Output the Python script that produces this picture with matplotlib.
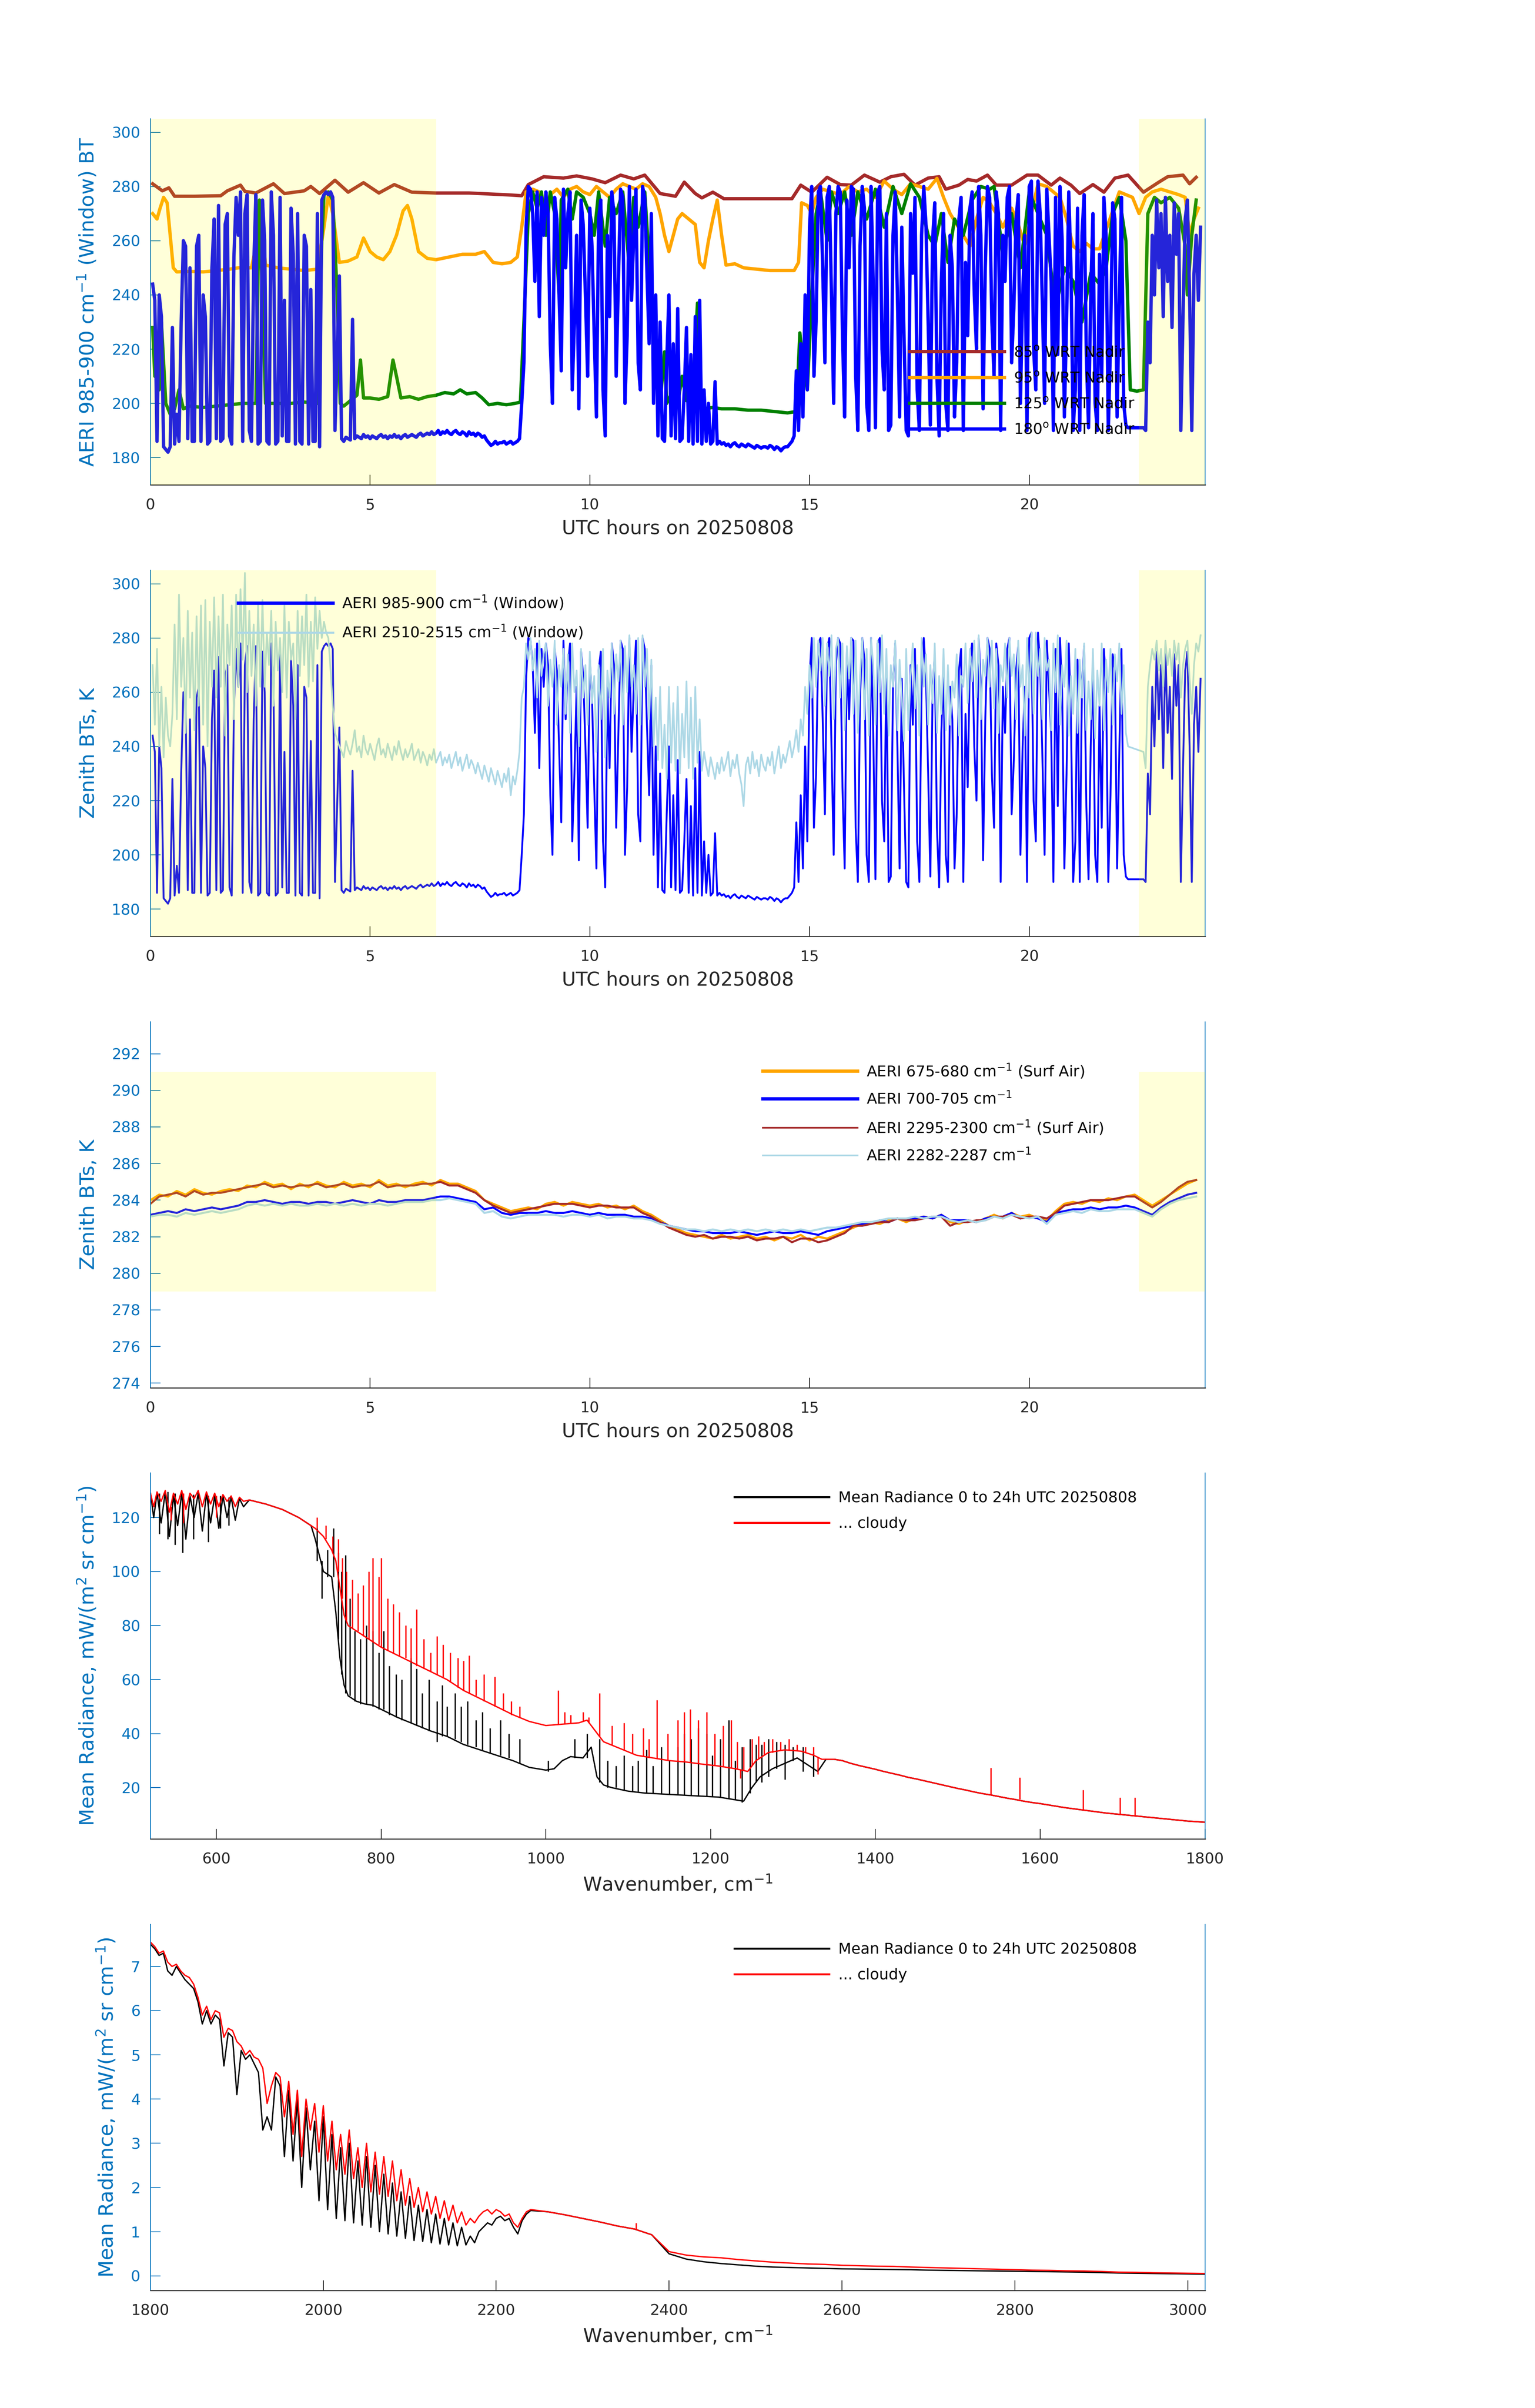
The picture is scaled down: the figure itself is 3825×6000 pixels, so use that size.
import numpy as np
import matplotlib
matplotlib.use('Agg')
import matplotlib.pyplot as plt

plt.rcParams['font.family'] = 'DejaVu Sans'
AXIS_BLUE = '#0072BD'
DARK = '#262626'

# ---------------- common ----------------
hour_ticks = [0, 5, 10, 15, 20]
night_spans = [(0, 6.5), (22.5, 24)]

# ---------------- panel 1: window BT at four scene angles ----------------
bt_ticks = [180, 200, 220, 240, 260, 280, 300]

t_85 = [0.05, 0.27, 0.42, 0.55, 1.0, 1.6, 1.75, 2.05, 2.15, 2.4, 2.8, 3.05, 3.5, 3.65, 3.85,
        4.2, 4.5, 4.85, 5.2, 5.55, 5.95, 6.5, 7.25, 8.15, 8.45, 8.6, 8.95, 9.4, 9.7, 10.05,
        10.35, 10.7, 11.0, 11.25, 11.6, 11.95, 12.15, 12.4, 12.55, 12.8, 13.05, 13.95, 14.6,
        14.8, 15.05, 15.4, 15.7, 15.95, 16.25, 16.6, 16.85, 17.15, 17.4, 17.7, 17.95, 18.1,
        18.4, 18.6, 18.8, 19.05, 19.25, 19.6, 19.95, 20.2, 20.5, 20.7, 20.95, 21.15, 21.45,
        21.7, 21.95, 22.25, 22.6, 22.95, 23.15, 23.5, 23.65, 23.8]
bt_85 = [281, 278.4, 279.5, 276.4, 276.4, 276.6, 278.4, 280.5, 278.2, 277.6, 281, 277.4, 278.4, 280, 277.4,
         282.3, 277.9, 281.4, 277.6, 280.7, 277.9, 277.6, 277.6, 276.9, 276.6, 280.7, 283.6, 283.1, 283.9, 282.8,
         281.4, 284.2, 282.8, 284.2, 277.4, 276.4, 281.6, 277.4, 275.8, 277.9, 275.5, 275.5, 275.5,
         280.5, 277.9, 283.4, 280.7, 280.5, 284.2, 281.6, 283.6, 284.5, 280.5, 283.1, 283.6, 279,
         280.5, 282.6, 282, 284.2, 280.5, 280.5, 284.2, 284.2, 280.5, 283.1, 280.5, 277.4, 280.7,
         277.9, 283.1, 284.2, 277.9, 281.6, 283.6, 284.2, 281, 283.4]

pts_95 = [(0.05, 270), (0.15, 268), (0.22, 272), (0.3, 276), (0.38, 274), (0.45, 262), (0.52, 250),
          (0.6, 248.5), (0.9, 248.7), (1.2, 248.5), (1.5, 249), (1.8, 249.5), (2.0, 250), (2.3, 250),
          (2.45, 262), (2.52, 268), (2.62, 251), (2.9, 250), (3.2, 249.5), (3.5, 249), (3.8, 249.5),
          (3.95, 265), (4.05, 277), (4.15, 270), (4.3, 252), (4.5, 252.5), (4.7, 254), (4.85, 261),
          (5.0, 256), (5.15, 254), (5.3, 253), (5.45, 256), (5.6, 262), (5.75, 271), (5.85, 273),
          (5.95, 268), (6.1, 256), (6.3, 253.5), (6.5, 253), (6.8, 254), (7.1, 255), (7.4, 255),
          (7.6, 256), (7.8, 252), (8.0, 251.5), (8.2, 252), (8.35, 254), (8.45, 265), (8.55, 278),
          (8.7, 279), (8.85, 278), (9.0, 272), (9.1, 277), (9.25, 279), (9.4, 276), (9.55, 279),
          (9.7, 280), (9.85, 278), (10.0, 277), (10.15, 280), (10.3, 278), (10.45, 276), (10.6, 279),
          (10.75, 281), (10.9, 280), (11.05, 279), (11.2, 281), (11.35, 280), (11.5, 276), (11.6, 270),
          (11.7, 262), (11.8, 256), (11.9, 262), (12.0, 268), (12.1, 270), (12.25, 268), (12.4, 266),
          (12.5, 252), (12.6, 250), (12.7, 260), (12.8, 268), (12.9, 275), (13.0, 262), (13.1, 251),
          (13.3, 251.5), (13.5, 250), (13.8, 249.5), (14.1, 249), (14.4, 249), (14.65, 249),
          (14.75, 252), (14.82, 274), (14.95, 273), (15.05, 270), (15.15, 276), (15.3, 279),
          (15.5, 278), (15.7, 277), (15.9, 280), (16.1, 278), (16.3, 279), (16.5, 276), (16.7, 282),
          (16.9, 279), (17.1, 277), (17.3, 281), (17.5, 280), (17.7, 279), (17.9, 283), (18.05, 276),
          (18.2, 270), (18.35, 266), (18.5, 262), (18.65, 258), (18.8, 268), (18.95, 276), (19.1, 274),
          (19.25, 270), (19.4, 265), (19.6, 272), (19.75, 266), (19.9, 258), (20.05, 270), (20.2, 281),
          (20.4, 280), (20.55, 278), (20.7, 276), (20.85, 268), (21.0, 258), (21.15, 256), (21.3, 259),
          (21.45, 257), (21.6, 257), (21.75, 264), (21.9, 271), (22.05, 278), (22.2, 277), (22.35, 276),
          (22.5, 270), (22.65, 276), (22.8, 278), (23.0, 279), (23.2, 278), (23.4, 277), (23.55, 276),
          (23.65, 262), (23.75, 268), (23.85, 272)]

pts_125 = [(0.05, 228), (0.1, 210), (0.15, 225), (0.2, 205), (0.25, 230), (0.3, 215), (0.35, 200),
           (0.45, 196), (0.55, 198), (0.65, 205), (0.75, 198), (0.9, 199), (1.2, 198.5), (1.5, 199),
           (1.8, 199.5), (2.1, 200), (2.4, 200), (2.48, 275), (2.55, 240), (2.62, 200), (2.9, 200),
           (3.2, 200), (3.5, 200.5), (3.8, 200), (3.9, 260), (3.95, 277), (4.05, 278), (4.15, 275),
           (4.25, 240), (4.32, 200), (4.4, 199), (4.55, 201), (4.7, 203), (4.78, 216), (4.85, 202),
           (5.0, 202), (5.2, 201.5), (5.4, 202.5), (5.52, 216), (5.6, 210), (5.7, 202), (5.9, 202.5),
           (6.1, 201.5), (6.3, 202.5), (6.5, 203), (6.7, 204), (6.9, 203.5), (7.05, 205), (7.2, 203.5),
           (7.4, 204), (7.55, 202), (7.7, 199.5), (7.9, 200), (8.1, 199.5), (8.3, 200), (8.42, 200.5),
           (8.5, 230), (8.6, 270), (8.7, 278), (8.8, 272), (8.9, 278), (9.0, 262), (9.1, 278), (9.2, 270),
           (9.3, 240), (9.35, 275), (9.5, 279), (9.6, 268), (9.7, 278), (9.85, 276), (10.0, 270),
           (10.1, 262), (10.2, 278), (10.35, 258), (10.45, 276), (10.6, 270), (10.75, 278), (10.9, 250),
           (11.0, 276), (11.1, 265), (11.25, 278), (11.4, 240), (11.5, 220), (11.6, 200), (11.7, 219),
           (11.75, 200), (11.9, 205), (12.0, 200), (12.1, 210), (12.2, 201), (12.35, 205), (12.45, 237),
           (12.52, 205), (12.6, 198), (12.8, 198.5), (13.0, 198), (13.3, 198), (13.6, 197.5),
           (13.9, 197.5), (14.2, 197), (14.5, 196.5), (14.7, 197), (14.78, 226), (14.85, 215),
           (14.95, 205), (15.05, 240), (15.15, 270), (15.25, 278), (15.4, 260), (15.5, 278), (15.65, 270),
           (15.8, 278), (15.95, 262), (16.1, 278), (16.3, 268), (16.5, 279), (16.7, 265), (16.9, 280),
           (17.1, 270), (17.3, 281), (17.5, 276), (17.7, 262), (17.85, 258), (18.0, 270), (18.15, 252),
           (18.3, 268), (18.5, 262), (18.7, 275), (18.9, 280), (19.1, 279), (19.2, 280), (19.4, 255),
           (19.6, 270), (19.8, 250), (20.0, 278), (20.2, 270), (20.4, 262), (20.6, 235), (20.8, 250),
           (21.0, 245), (21.2, 230), (21.4, 248), (21.6, 244), (21.75, 250), (21.9, 270), (22.05, 276),
           (22.2, 260), (22.3, 205), (22.45, 204.5), (22.6, 205), (22.7, 270), (22.85, 276), (23.0, 274),
           (23.2, 276), (23.4, 272), (23.55, 258), (23.6, 240), (23.7, 262), (23.8, 275)]

# 985-900 cm-1 zenith (180 deg) record, in stretches: (start h, end h), 0.05 h sampling
win_stretches = [(0.05, 4.2), (4.3, 8.45), (8.5, 14.6), (14.65, 22.25), (22.6, 23.9)]
bt_180 = [
    # 0.05 - 4.2 h
    [244, 238, 186, 240, 232, 184, 183, 182, 184, 228,
     185, 196, 186, 230, 260, 258, 187, 250, 186, 186,
     258, 262, 186, 240, 232, 185, 186, 250, 268, 187,
     273, 186, 187, 266, 270, 188, 185, 254, 276, 262,
     278, 186, 270, 277, 190, 186, 250, 277, 185, 186,
     275, 260, 186, 185, 278, 262, 185, 186, 276, 188,
     238, 186, 186, 272, 255, 185, 270, 186, 185, 262,
     258, 185, 242, 186, 186, 270, 184, 275, 277, 278,
     277, 278, 276, 190],
    # 4.3 - 8.45 h
    [247, 187, 186, 187.5, 187, 186.5, 231, 187, 188, 187.5,
     187, 188.5, 187.5, 188, 187, 188, 187.5, 187, 188, 188.5,
     187.5, 188, 187, 188, 187.5, 188.5, 187.5, 188, 187, 188,
     188.5, 187.5, 188, 188.5, 188, 187.5, 188.5, 189, 188, 188.5,
     189, 188.5, 189.5, 188.5, 189, 190, 188.5, 189.5, 189, 190,
     189, 188.5, 189.5, 190, 189, 188.5, 189.5, 189, 188, 189.5,
     188.5, 189, 188, 189, 188.5, 187.5, 188, 186.5, 185.5, 184.5,
     185, 186, 185, 185.5, 185.5, 186, 185, 185.5, 186, 185,
     185.5, 186, 187, 200],
    # 8.5 - 14.6 h
    [215, 265, 280, 279, 270, 245, 278, 232, 276, 262,
     278, 270, 222, 200, 276, 268, 240, 212, 279, 250,
     270, 278, 205, 230, 262, 198, 275, 266, 240, 210,
     272, 258, 225, 195, 268, 275, 205, 188, 262, 232,
     278, 270, 210, 245, 279, 276, 200, 225, 280, 238,
     262, 279, 215, 205, 280, 276, 248, 222, 270, 200,
     240, 188, 230, 187, 186, 215, 240, 188, 222, 187,
     235, 186, 187, 205, 228, 186, 218, 185, 232, 186,
     238, 185, 205, 186, 200, 185, 186, 208, 185, 186,
     185, 185.5, 184.5, 185, 184, 185, 185.5, 184.5, 184, 185,
     184.5, 184, 185, 184.5, 184, 183.5, 184.5, 184, 183.5, 184,
     184, 183.5, 184.5, 184, 183, 184, 183.5, 182.5, 183.5, 184,
     184, 185, 186],
    # 14.65 - 22.25 h
    [188, 212, 190, 222, 195, 240, 205, 265, 280, 210,
     230, 278, 280, 250, 215, 276, 280, 240, 200, 270,
     280, 278, 225, 195, 275, 250, 280, 279, 210, 190,
     258, 280, 272, 200, 190, 280, 245, 191, 278, 280,
     220, 205, 270, 190, 192, 262, 278, 240, 195, 265,
     225, 190, 188, 270, 248, 276, 205, 190, 262, 280,
     266, 230, 192, 260, 274, 210, 188, 245, 270, 200,
     190, 262, 250, 195, 215, 268, 276, 190, 252, 225,
     272, 278, 240, 220, 280, 262, 198, 250, 280, 276,
     230, 210, 278, 270, 190, 262, 245, 276, 280, 215,
     235, 268, 277, 200, 240, 262, 190, 280, 282, 220,
     205, 282, 270, 236, 200, 279, 262, 245, 190, 276,
     218, 280, 260, 195, 230, 278, 250, 190, 205, 272,
     190, 262, 277, 218, 191, 240, 270, 200, 190, 255,
     210, 276, 262, 190, 222, 274, 268, 195, 238, 276,
     200, 192, 191],
    # 22.6 - 23.9 h
    [191, 190, 230, 215, 262, 240, 275, 250, 270, 232,
     276, 245, 262, 228, 274, 255, 270, 190, 232, 268,
     275, 240, 190, 248, 262, 238, 265],
]

# ---------------- panel 2: 2510-2515 cm-1 window, same stretches ----------------
bt_2510 = [
    [270, 248, 276, 240, 262, 236, 258, 244, 240, 252,
     285, 250, 296, 262, 280, 245, 290, 258, 282, 246,
     288, 255, 292, 248, 294, 240, 286, 262, 295, 258,
     288, 262, 296, 244, 285, 270, 292, 250, 296, 262,
     298, 272, 304, 260, 290, 266, 285, 255, 292, 262,
     294, 262, 282, 270, 290, 255, 286, 268, 280, 260,
     292, 258, 286, 272, 278, 250, 290, 266, 288, 270,
     296, 262, 286, 264, 295, 276, 290, 280, 286, 282,
     280, 268, 255, 245],
    [240, 238, 236, 242, 239, 237, 241, 246, 238, 240,
     236, 244, 239, 237, 241, 238, 235, 240, 243, 237,
     239, 236, 241, 238, 235, 240, 237, 242, 238, 235,
     239, 236, 238, 241, 235, 237, 239, 234, 238, 236,
     233, 237, 235, 239, 234, 236, 238, 233, 236, 234,
     237, 232, 235, 238, 233, 236, 231, 234, 237, 232,
     235, 233, 230, 234, 231, 228, 233, 230, 227, 232,
     229, 226, 231, 228, 225, 230, 227, 232, 222, 229,
     226, 231, 238, 258],
    [262, 278, 272, 280, 268, 276, 258, 279, 266, 274,
     278, 255, 272, 262, 279, 248, 270, 262, 276, 252,
     274, 245, 278, 260, 268, 240, 276, 258, 270, 248,
     275, 256, 266, 238, 270, 250, 276, 236, 268, 258,
     278, 252, 274, 264, 279, 248, 277, 260, 281, 262,
     270, 252, 280, 248, 281, 262, 276, 250, 272, 240,
     258, 235, 262, 232, 248, 228, 262, 234, 256, 231,
     262, 230, 252, 236, 264, 232, 258, 228, 262, 234,
     250, 231, 238, 233, 229, 236, 232, 228, 234, 230,
     236, 231, 234, 238, 229, 235, 232, 237, 230, 226,
     218, 233, 236, 230, 238, 232, 235, 229, 237, 233,
     231, 236, 233, 238, 230, 235, 240, 232, 237, 234,
     238, 242, 236],
    [240, 246, 238, 250, 244, 262, 252, 270, 258, 280,
     262, 279, 268, 280, 255, 278, 266, 281, 250, 276,
     280, 258, 278, 246, 277, 265, 280, 252, 279, 245,
     266, 280, 250, 276, 244, 280, 270, 248, 279, 260,
     281, 252, 276, 244, 270, 262, 279, 246, 272, 258,
     242, 276, 246, 266, 278, 254, 270, 244, 280, 262,
     274, 248, 270, 256, 278, 245, 266, 252, 276, 246,
     270, 248, 264, 258, 274, 244, 266, 262, 278, 256,
     276, 264, 279, 258, 281, 250, 272, 266, 280, 262,
     279, 254, 276, 245, 270, 264, 278, 258, 280, 266,
     274, 250, 279, 262, 270, 244, 280, 258, 282, 252,
     282, 266, 276, 250, 280, 268, 272, 246, 278, 260,
     281, 248, 270, 262, 279, 244, 266, 252, 276, 245,
     272, 258, 278, 246, 264, 250, 276, 243, 268, 255,
     278, 246, 272, 260, 276, 248, 274, 264, 278, 252,
     270, 245, 240],
    [238, 232, 262, 270, 276, 272, 279, 268, 276, 262,
     279, 270, 276, 266, 279, 272, 278, 258, 270, 276,
     279, 265, 252, 270, 278, 275, 281],
]

# ---------------- panel 3: surface-air channels, 0.2 h sampling from 0 h ----------------
surf_ticks = [274, 276, 278, 280, 282, 284, 286, 288, 290, 292]
bt_675 = [284.0, 284.3, 284.2, 284.5, 284.3, 284.6, 284.4, 284.3, 284.5, 284.6,
          284.5, 284.8, 284.7, 285.0, 284.8, 284.9, 284.6, 284.9, 284.7, 285.0,
          284.8, 284.7, 285.0, 284.8, 284.9, 284.7, 285.1, 284.8, 284.9, 284.7,
          284.9, 285.0, 284.8, 285.1, 284.9, 284.9, 284.7, 284.5, 284.0, 283.8,
          283.6, 283.4, 283.5, 283.6, 283.5, 283.8, 283.9, 283.7, 283.9, 283.8,
          283.7, 283.8, 283.6, 283.7, 283.5, 283.7, 283.4, 283.2, 282.9, 282.6,
          282.4, 282.2, 282.1, 282.0, 281.9, 282.1, 281.9, 282.0, 282.1, 281.9,
          282.0, 281.8, 282.0, 281.9, 282.1, 281.8, 282.0, 281.9, 282.1, 282.3,
          282.5, 282.7, 282.8, 282.7, 282.9, 283.0, 282.8, 283.0, 283.1, 283.0,
          283.2, 282.8, 282.7, 282.9, 282.8, 283.0, 283.2, 283.0, 283.3, 283.1,
          283.2, 283.0, 282.9, 283.4, 283.8, 283.9, 283.8, 284.0, 283.9, 284.1,
          284.0, 284.2, 284.3, 284.0, 283.7, 284.0, 284.3, 284.6, 284.9, 285.1]
bt_700 = [283.2, 283.3, 283.4, 283.3, 283.5, 283.4, 283.5, 283.6, 283.5, 283.6,
          283.7, 283.9, 283.9, 284.0, 283.9, 283.8, 283.9, 283.9, 283.8, 283.9,
          283.9, 283.8, 283.9, 284.0, 283.9, 283.8, 284.0, 283.9, 283.9, 284.0,
          284.0, 284.0, 284.1, 284.2, 284.2, 284.1, 284.0, 283.9, 283.5, 283.6,
          283.3, 283.2, 283.3, 283.3, 283.3, 283.4, 283.3, 283.3, 283.4, 283.3,
          283.2, 283.3, 283.2, 283.2, 283.2, 283.1, 283.1, 283.0, 282.8, 282.6,
          282.5, 282.4, 282.3, 282.3, 282.2, 282.2, 282.2, 282.3, 282.2, 282.1,
          282.2, 282.3, 282.2, 282.2, 282.3, 282.2, 282.1, 282.3, 282.4, 282.5,
          282.6, 282.7, 282.7, 282.9, 282.8, 283.0, 282.9, 283.0, 283.1, 283.0,
          283.2, 282.9, 282.9, 282.9, 282.8, 283.0, 283.1, 283.1, 283.3, 283.0,
          283.1, 283.0, 282.8, 283.3, 283.4, 283.5, 283.5, 283.6, 283.5, 283.6,
          283.6, 283.7, 283.6, 283.4, 283.2, 283.6, 283.9, 284.1, 284.3, 284.4]
bt_2295 = [283.8, 284.2, 284.3, 284.4, 284.2, 284.5, 284.3, 284.4, 284.4, 284.5,
           284.6, 284.7, 284.8, 284.9, 284.7, 284.8, 284.7, 284.8, 284.8, 284.9,
           284.7, 284.8, 284.9, 284.7, 284.8, 284.8, 285.0, 284.7, 284.8, 284.8,
           284.8, 284.9, 284.9, 285.0, 284.8, 284.8, 284.6, 284.4, 284.0, 283.7,
           283.5, 283.3, 283.4, 283.5, 283.6, 283.7, 283.8, 283.8, 283.8, 283.7,
           283.6, 283.7, 283.7, 283.6, 283.6, 283.6, 283.3, 283.1, 282.8, 282.5,
           282.3, 282.1, 282.0, 282.1, 281.9, 282.0, 282.0, 281.9, 282.0, 281.8,
           281.9, 281.9, 282.0, 281.7, 281.9, 281.9, 281.7, 281.8, 282.0, 282.2,
           282.6, 282.6, 282.7, 282.8, 282.8, 283.0, 282.9, 282.9, 283.0, 283.1,
           283.1, 282.6, 282.8, 282.8, 282.9, 282.9, 283.1, 283.1, 283.2, 283.0,
           283.1, 283.1, 283.0, 283.3, 283.7, 283.8, 283.9, 284.0, 284.0, 284.0,
           284.1, 284.2, 284.2, 283.9, 283.6, 283.9, 284.3, 284.7, 285.0, 285.1]
bt_2282 = [283.1, 283.2, 283.2, 283.1, 283.3, 283.2, 283.3, 283.4, 283.3, 283.4,
           283.5, 283.7, 283.8, 283.7, 283.8, 283.7, 283.8, 283.7, 283.7, 283.8,
           283.7, 283.8, 283.7, 283.8, 283.7, 283.8, 283.8, 283.7, 283.8, 283.9,
           283.9, 283.9, 284.0, 284.0, 284.1, 284.0, 283.9, 283.8, 283.3, 283.4,
           283.1, 283.0, 283.1, 283.2, 283.2, 283.2, 283.2, 283.1, 283.2, 283.2,
           283.1, 283.2, 283.0, 283.1, 283.1, 283.0, 283.0, 282.9, 282.7, 282.6,
           282.5, 282.4, 282.4, 282.3, 282.4, 282.3, 282.4, 282.3, 282.4, 282.3,
           282.4, 282.3, 282.4, 282.3, 282.4, 282.3, 282.4, 282.5, 282.5, 282.6,
           282.7, 282.8, 282.8, 282.9, 283.0, 283.0, 283.0, 283.1, 283.0, 283.1,
           283.1, 282.9, 282.8, 282.9, 282.8, 282.9, 283.1, 283.0, 283.2, 283.1,
           283.0, 283.1, 282.7, 283.2, 283.3, 283.4, 283.3, 283.5, 283.4, 283.4,
           283.5, 283.5, 283.5, 283.3, 283.1, 283.5, 283.8, 284.0, 284.1, 284.2]

# ---------------- panel 4: mean radiance 520-1800 cm-1 ----------------
# continuum (wn, radiance) plus line features (wn, low, high)
lw_mean_base = [(520, 129), (524, 120), (528, 129), (533, 118), (538, 129.5), (543, 113), (548, 128),
                (553, 117), (558, 129), (563, 112), (568, 128), (573, 120), (578, 129), (583, 115),
                (588, 129), (593, 118), (598, 128), (603, 116), (608, 128), (613, 120), (618, 127.5),
                (623, 119), (628, 127), (633, 124), (640, 126.5), (660, 125), (680, 123), (700, 120),
                (715, 117), (720, 112), (730, 100),
                (740, 98), (745, 85), (750, 68), (755, 58), (760, 54), (770, 52), (780, 51),
                (790, 50.5), (800, 49), (820, 46), (840, 43.5), (860, 41), (880, 39), (900, 36),
                (920, 34), (940, 32), (960, 30), (980, 27.5), (1000, 26.5), (1010, 27), (1020, 30),
                (1030, 31.5), (1045, 31), (1055, 35), (1062, 24), (1070, 21), (1080, 20), (1100, 18.7),
                (1120, 18), (1150, 17.5), (1180, 17), (1210, 16.5), (1230, 15.5), (1240, 15), (1250, 20),
                (1260, 24), (1275, 27), (1290, 29), (1305, 31), (1320, 28), (1330, 26), (1340, 30.5)]
lw_cloudy_base = [(520, 129), (524, 124), (528, 129.5), (533, 126), (538, 130), (543, 122), (548, 129),
                  (553, 125), (558, 130), (563, 123), (568, 129), (573, 127), (578, 130), (583, 124),
                  (588, 129.5), (593, 125), (598, 129), (603, 124), (608, 128.5), (613, 126), (618, 128),
                  (623, 124), (628, 127.5), (633, 126), (640, 126.5), (660, 125), (680, 123), (700, 120),
                  (715, 117), (720, 116), (730, 113),
                  (740, 108), (745, 104), (750, 94), (755, 84), (760, 80), (770, 78), (780, 76),
                  (800, 72), (820, 69), (840, 66), (860, 63), (880, 60), (900, 56), (920, 53), (940, 50),
                  (960, 47), (980, 44.5), (1000, 43), (1020, 43.5), (1040, 44), (1050, 45), (1060, 41),
                  (1070, 37), (1090, 34.5), (1110, 32), (1130, 31), (1150, 30), (1170, 29.5),
                  (1190, 28.7), (1210, 28), (1230, 27), (1245, 26), (1255, 30), (1270, 33), (1290, 34),
                  (1310, 33.5), (1325, 32), (1335, 30.5), (1340, 30.5)]
# 1350-1800 cm-1 every 10 cm-1, both curves
lw_tail = [30.5, 30, 29, 28.2, 27.5, 26.8, 26, 25.3, 24.6, 23.8,
           23.2, 22.5, 21.8, 21.1, 20.4, 19.7, 19.1, 18.4, 17.8, 17.3,
           16.7, 16.1, 15.6, 15.0, 14.5, 14.1, 13.6, 13.1, 12.6, 12.2,
           11.8, 11.4, 11.0, 10.6, 10.3, 10.0, 9.7, 9.4, 9.1, 8.8,
           8.5, 8.2, 7.9, 7.6, 7.4, 7.2]
lw_mean_lines = [(531, 114, 129), (541, 112, 129.5), (550, 110, 129), (559, 107, 129),
                 (572, 112, 128.5), (590, 111, 128), (605, 116, 128), (615, 117, 127.5),
                 (722, 104, 116), (728, 90, 104), (735, 98, 108), (742, 98, 116), (748, 75, 107),
                 (752, 62, 100), (757, 55, 106), (762, 54, 90), (768, 52, 78), (775, 51, 75), (782, 51, 80),
                 (790, 50, 78), (797, 49, 70), (803, 49, 78), (810, 47, 65), (818, 46, 62), (825, 45, 60),
                 (836, 44, 68), (843, 43, 64), (850, 42, 55), (858, 41, 60), (868, 37, 52), (874, 39, 58),
                 (880, 39, 50), (890, 38, 55), (897, 37, 50), (905, 36, 52), (915, 35, 45), (923, 34, 48),
                 (932, 33, 42), (945, 32, 45), (955, 31, 40), (968, 29, 38), (1003, 26, 30), (1035, 31, 38),
                 (1050, 31, 40), (1065, 22, 38), (1075, 20, 30), (1085, 20, 28), (1095, 19, 32),
                 (1105, 18.7, 28), (1112, 18.5, 30), (1122, 18, 34), (1130, 18, 28), (1140, 17.8, 35),
                 (1150, 17.5, 30), (1160, 17.3, 35), (1168, 17.2, 40), (1176, 17.1, 38), (1185, 17, 42),
                 (1195, 16.8, 40), (1202, 16.7, 32), (1212, 16.5, 38), (1222, 16.2, 45), (1230, 15.5, 30),
                 (1238, 14.5, 35), (1248, 18, 38), (1255, 22, 36), (1262, 22, 36), (1270, 24, 38),
                 (1280, 27, 37), (1290, 23, 36), (1300, 30, 35), (1312, 26, 35), (1325, 24, 33)]
lw_cloudy_lines = [(545, 119, 124), (560, 118, 129), (600, 120, 128),
                   (722, 116, 120), (733, 112, 117), (741, 107, 113), (748, 100, 112), (753, 90, 105),
                   (758, 82, 100), (765, 79, 97), (772, 78, 92), (778, 76, 95), (785, 75, 100),
                   (790, 74, 105), (797, 73, 98), (800, 72, 105), (808, 71, 90), (815, 70, 88),
                   (822, 69, 85), (830, 68, 80), (836, 67, 79), (843, 65, 86), (852, 64, 75), (860, 63, 70),
                   (868, 62, 76), (875, 61, 73), (884, 59, 70), (893, 57, 68), (900, 56, 67), (907, 55, 69),
                   (915, 54, 60), (925, 52, 62), (938, 50, 61), (948, 49, 55), (958, 47, 52), (968, 46, 50),
                   (1015, 43.5, 56), (1023, 43.5, 48), (1030, 43.7, 47), (1045, 44.5, 48), (1052, 44, 46),
                   (1065, 39, 55), (1080, 36, 43), (1095, 34, 44), (1105, 32.5, 40), (1118, 31.5, 42),
                   (1125, 31, 38), (1135, 30.8, 52.5), (1148, 30, 40), (1160, 29.7, 45), (1168, 29.5, 48),
                   (1175, 29.3, 49), (1185, 28.9, 45), (1195, 28.6, 48), (1205, 28.2, 40), (1215, 27.8, 43),
                   (1225, 27.2, 45), (1232, 26.8, 37), (1236, 23.5, 26.8), (1240, 26.3, 35), (1250, 28, 38),
                   (1258, 30.5, 39), (1265, 32, 37), (1275, 33, 38), (1285, 34, 37), (1295, 34, 38),
                   (1305, 33.5, 36), (1315, 33, 35), (1325, 32, 35), (1330, 25, 31),
                   (1540, 17.5, 27.3), (1575, 15.8, 23.8), (1652, 11.8, 19.1), (1697, 10.3, 16.4),
                   (1715, 9.8, 16.4)]

# ---------------- panel 5: mean radiance 1800-3020 cm-1 ----------------
# 1800-2240 cm-1 every 5 cm-1, then 2260-3020 every 20 cm-1
rad_sw_mean = [7.5, 7.4, 7.25, 7.3, 6.9, 6.8, 7.0, 6.85, 6.7, 6.6,
               6.5, 6.2, 5.7, 6.0, 5.7, 5.9, 5.8, 4.75, 5.5, 5.4,
               4.1, 5.1, 4.9, 5.0, 4.8, 4.6, 3.3, 3.6, 3.3, 4.5,
               4.3, 2.7, 4.2, 2.6, 4.0, 2.0, 3.8, 2.4, 3.5, 1.7,
               3.6, 1.5, 3.2, 1.3, 2.9, 1.25, 3.0, 1.2, 2.6, 1.15,
               2.7, 1.1, 2.5, 1.0, 2.3, 0.95, 2.1, 0.9, 1.9, 0.85,
               1.8, 0.8, 1.6, 0.78, 1.5, 0.75, 1.4, 0.72, 1.3, 0.7,
               1.2, 0.68, 1.1, 0.7, 0.9, 0.75, 1.0, 1.1, 1.2, 1.15,
               1.3, 1.35, 1.25, 1.3, 1.1, 0.95, 1.25, 1.4, 1.48]
rad_sw_cloudy = [7.55, 7.45, 7.3, 7.35, 7.1, 7.0, 7.05, 6.9, 6.8, 6.75,
                 6.6, 6.3, 5.9, 6.1, 5.8, 6.0, 5.95, 5.4, 5.6, 5.55,
                 5.3, 5.2, 5.0, 5.1, 4.95, 4.9, 4.7, 3.9, 4.3, 4.6,
                 4.5, 3.6, 4.4, 3.2, 4.2, 2.7, 4.0, 3.3, 3.9, 2.8,
                 3.85, 2.6, 3.5, 2.4, 3.2, 2.3, 3.3, 2.2, 2.9, 2.0,
                 3.0, 1.9, 2.8, 1.85, 2.7, 1.8, 2.6, 1.7, 2.4, 1.6,
                 2.2, 1.55, 2.0, 1.45, 1.9, 1.4, 1.8, 1.3, 1.7, 1.25,
                 1.6, 1.2, 1.45, 1.15, 1.3, 1.2, 1.35, 1.45, 1.5, 1.4,
                 1.5, 1.45, 1.35, 1.4, 1.2, 1.1, 1.3, 1.45, 1.5]
rad_sw_mean_tail = [1.45, 1.38, 1.3, 1.22, 1.13, 1.06, 0.93, 0.5, 0.38, 0.32,
                    0.28, 0.25, 0.22, 0.2, 0.19, 0.18, 0.17, 0.16, 0.155, 0.15,
                    0.145, 0.14, 0.13, 0.125, 0.12, 0.115, 0.11, 0.105, 0.1, 0.095,
                    0.09, 0.085, 0.075, 0.065, 0.06, 0.055, 0.05, 0.045, 0.04]
rad_sw_cloudy_tail = [1.45, 1.38, 1.3, 1.22, 1.13, 1.06, 0.93, 0.55, 0.47, 0.43,
                      0.41, 0.37, 0.34, 0.31, 0.29, 0.27, 0.26, 0.24, 0.23, 0.22,
                      0.215, 0.2, 0.19, 0.18, 0.17, 0.16, 0.15, 0.14, 0.13, 0.125,
                      0.115, 0.11, 0.1, 0.085, 0.08, 0.07, 0.065, 0.06, 0.055]
sw_cloudy_lines = [(2362, 1.06, 1.2)]


def juntar_trechos(trechos, valores):
    # time axis for each stretch at its own sampling, then glue them together
    tt, vv = [], []
    for (a, b), v in zip(trechos, valores):
        tt.append(np.linspace(a, b, len(v)))
        vv.append(np.asarray(v, float))
    return np.concatenate(tt), np.concatenate(vv)


def sombrear(ax, y0, y1):
    for a, b in night_spans:
        ax.fill_between([a, b], y0, y1, color='yellow', alpha=0.15, lw=0, zorder=4)


def espectro(ax, base, cauda_wn, cauda, linhas, cor, rotulo):
    wn, val = zip(*base)
    x = np.concatenate([wn, cauda_wn])
    y = np.concatenate([val, cauda])
    ax.plot(x, y, color=cor, lw=0.8, label=rotulo)
    lx, lo, hi = zip(*linhas)
    ax.vlines(lx, lo, hi, color=cor, lw=0.8)


def estilo(ax, xlim, ylim, xticks, yticks, xlabel, ylabel):
    ax.set_xlim(xlim)
    ax.set_ylim(ylim)
    ax.set_xticks(xticks)
    ax.set_yticks(yticks)
    ax.tick_params(axis='x', direction='in', length=6, width=0.5, colors=DARK,
                   labelsize=9, pad=8)
    ax.tick_params(axis='y', direction='in', length=6, width=0.5, colors=AXIS_BLUE,
                   labelsize=9, pad=6)
    ax.spines['top'].set_visible(False)
    ax.spines['left'].set_color(AXIS_BLUE)
    ax.spines['right'].set_color(AXIS_BLUE)
    ax.spines['left'].set_linewidth(0.5)
    ax.spines['right'].set_linewidth(0.4)
    ax.spines['bottom'].set_color(DARK)
    ax.spines['bottom'].set_linewidth(0.6)
    ax.set_xlabel(xlabel, fontsize=11.5, color=DARK, labelpad=4)
    ax.set_ylabel(ylabel, fontsize=12, color=AXIS_BLUE, labelpad=8)


def legenda(ax, x, y, larguras, spacing=0.75):
    leg = ax.legend(loc='center left', bbox_to_anchor=(x, y), frameon=False, fontsize=9,
                    handlelength=6.3, handletextpad=0.6, labelspacing=spacing,
                    borderpad=0, borderaxespad=0)
    for linha, lw in zip(leg.get_lines(), larguras):
        linha.set_linewidth(lw)
    return leg


fig = plt.figure(figsize=(12.75, 20))
left, width, height = 0.098, 0.687, 0.152
bottoms = [0.7987, 0.6112, 0.4237, 0.2363, 0.0488]
axes = [fig.add_axes([left, b, width, height]) for b in bottoms]

t_win, v_180 = juntar_trechos(win_stretches, bt_180)
_, v_2510 = juntar_trechos(win_stretches, bt_2510)

# panel 1
ax = axes[0]
t95, v95 = zip(*pts_95)
t125, v125 = zip(*pts_125)
ax.plot(t_85, bt_85, color='#A52A2A', lw=2, label=r'85$^{\mathrm{o}}$ WRT Nadir')
ax.plot(t95, v95, color='#FFA500', lw=2, label=r'95$^{\mathrm{o}}$ WRT Nadir')
ax.plot(t125, v125, color='#008000', lw=2, label=r'125$^{\mathrm{o}}$ WRT Nadir')
ax.plot(t_win, v_180, color='#0000FF', lw=2, label=r'180$^{\mathrm{o}}$ WRT Nadir')
sombrear(ax, 170, 305)
estilo(ax, (0, 24), (170, 305), hour_ticks, bt_ticks, 'UTC hours on 20250808',
       r'AERI 985-900 cm$^{-1}$ (Window) BT')
legenda(ax, 0.72, 0.2545, [2, 2, 2, 2])

# panel 2
ax = axes[1]
ax.plot(t_win, v_180, color='#0000FF', lw=1.1, label=r'AERI 985-900 cm$^{-1}$ (Window)')
ax.plot(t_win, v_2510, color='#ADD8E6', lw=1.0, label=r'AERI 2510-2515 cm$^{-1}$ (Window)')
sombrear(ax, 170, 305)
estilo(ax, (0, 24), (170, 305), hour_ticks, bt_ticks, 'UTC hours on 20250808', 'Zenith BTs, K')
legenda(ax, 0.0833, 0.871, [2, 1.2])

# panel 3
ax = axes[2]
t_surf = np.linspace(0, 23.8, len(bt_675))
ax.plot(t_surf, bt_675, color='#FFA500', lw=1.3, label=r'AERI 675-680 cm$^{-1}$ (Surf Air)')
ax.plot(t_surf, bt_700, color='#0000FF', lw=1.2, label=r'AERI 700-705 cm$^{-1}$')
ax.plot(t_surf, bt_2295, color='#A52A2A', lw=1.2, label=r'AERI 2295-2300 cm$^{-1}$ (Surf Air)')
ax.plot(t_surf, bt_2282, color='#ADD8E6', lw=1.2, label=r'AERI 2282-2287 cm$^{-1}$')
sombrear(ax, 279, 291)
estilo(ax, (0, 24), (273.75, 293.75), hour_ticks, surf_ticks, 'UTC hours on 20250808',
       'Zenith BTs, K')
legenda(ax, 0.5806, 0.751, [2, 2, 1, 1])

# panel 4
ax = axes[3]
wn_tail = np.linspace(1350, 1800, len(lw_tail))
espectro(ax, lw_mean_base, wn_tail, lw_tail, lw_mean_lines, 'black',
         'Mean Radiance 0 to 24h UTC 20250808')
espectro(ax, lw_cloudy_base, wn_tail, lw_tail, lw_cloudy_lines, 'red', '... cloudy')
estilo(ax, (520, 1800), (1, 136.5), range(600, 1801, 200), range(20, 121, 20),
       r'Wavenumber, cm$^{-1}$', r'Mean Radiance, mW/(m$^2$ sr cm$^{-1}$)')
legenda(ax, 0.5537, 0.896, [1.2, 1.2])

# panel 5
ax = axes[4]
wn_sw = np.concatenate([np.linspace(1800, 2240, len(rad_sw_mean)),
                        np.linspace(2260, 3020, len(rad_sw_mean_tail))])
ax.plot(wn_sw, np.concatenate([rad_sw_mean, rad_sw_mean_tail]), color='black', lw=0.8,
        label='Mean Radiance 0 to 24h UTC 20250808')
ax.plot(wn_sw, np.concatenate([rad_sw_cloudy, rad_sw_cloudy_tail]), color='red', lw=0.8,
        label='... cloudy')
lx, lo, hi = zip(*sw_cloudy_lines)
ax.vlines(lx, lo, hi, color='red', lw=0.8)
estilo(ax, (1800, 3020), (-0.33, 7.95), range(1800, 3001, 200), range(0, 8),
       r'Wavenumber, cm$^{-1}$', r'Mean Radiance, mW/(m$^2$ sr cm$^{-1}$)')
legenda(ax, 0.5537, 0.896, [1.2, 1.2])

fig.savefig('out.png', dpi=300, facecolor='white')
